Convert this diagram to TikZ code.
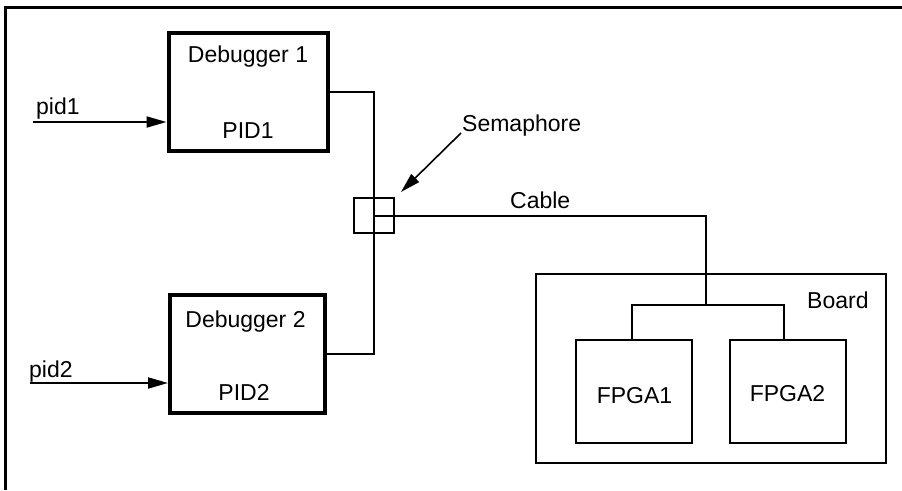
\documentclass[tikz,border=0pt]{standalone}
\usepackage{fontspec}
\setmainfont{Liberation Sans}
\usetikzlibrary{arrows.meta}
\begin{document}
\begin{tikzpicture}[x=1pt,y=-1pt,
  txt/.style={inner sep=0pt,font=\fontsize{23}{27}\selectfont},
  dbox/.style={draw,line width=4pt,inner sep=0pt},
  tbox/.style={draw,line width=2pt,inner sep=0pt},
  wire/.style={line width=2pt},
  arr/.style={line width=2pt,-{Triangle[length=20pt,width=11pt]}},
  sarr/.style={line width=1.6pt,-{Triangle[length=20pt,width=11pt]}}]
\useasboundingbox (0,0) rectangle (902,490);
% frame (only left and top visible)
\draw[line width=3pt] (5,490) -- (5,7) -- (902,7);
% debuggers
\node[dbox,minimum width=159pt,minimum height=118pt] (d1) at (248,92) {};
\node[dbox,minimum width=155pt,minimum height=118pt] (d2) at (247.5,354) {};
\node[txt,anchor=base] (d1t) at (248,62) {Debugger 1};
\node[txt,anchor=base] (d1p) at (248,138) {PID1};
\node[txt,anchor=base] (d2t) at (245.5,327) {Debugger 2};
\node[txt,anchor=base] (d2p) at (244,400) {PID2};
% inputs
\coordinate (p1) at (33,122);
\coordinate (p2) at (30,383);
\draw[arr] (p1) -- (p1 -| d1.west);
\draw[arr] (p2) -- (p2 -| d2.west);
\node[txt,anchor=base west] (p1t) at (36,114) {pid1};
\node[txt,anchor=base west] (p2t) at (29,377) {pid2};
% semaphore
\node[tbox,minimum width=40pt,minimum height=35pt] (sem) at (374,215.5) {};
\draw[wire] (d1.east) -| (sem.center) |- (d2.east);
\node[txt,anchor=base west] (semt) at (462,131) {Semaphore};
\coordinate (sa) at (461,133);
\draw[sarr] (sa) -- ([shift={(6,-5)}]sem.north east);
% board
\node[tbox,minimum width=350pt,minimum height=189pt] (board) at (711,368.5) {};
\node[txt,anchor=base west] (boardt) at (807,308) {Board};
\node[tbox,minimum width=116pt,minimum height=103pt] (f1) at (634,391.5) {};
\node[tbox,minimum width=116pt,minimum height=103pt] (f2) at (788,391.5) {};
\node[txt,anchor=base] (f1t) at (634.5,403) {FPGA1};
\node[txt,anchor=base] (f2t) at (787.5,401) {FPGA2};
\coordinate (bj) at (706,305);
\draw[wire] (sem.center) -| (bj);
\draw[wire] ([xshift=-2pt]f1.north) |- (bj) -| ([xshift=-4pt]f2.north);
\node[txt,anchor=base west] (cablet) at (510,208) {Cable};
\end{tikzpicture}
\end{document}
